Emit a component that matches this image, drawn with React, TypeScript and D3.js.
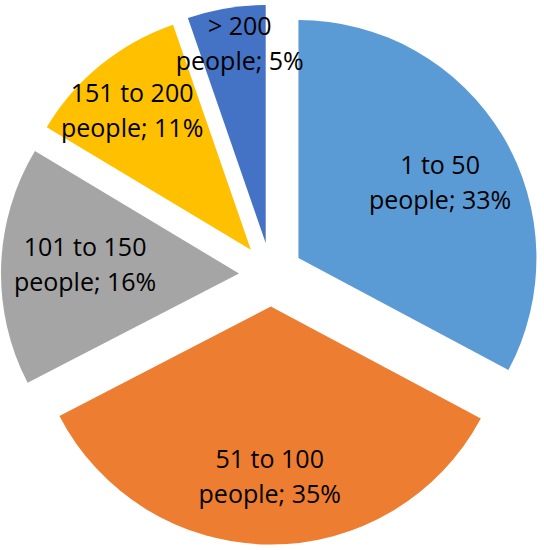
import React from "react";
import * as d3 from "d3";

// group sizes and their share of respondents (labels show rounded %)
const categories = ["1 to 50", "51 to 100", "101 to 150", "151 to 200", "> 200"];
const shares = [32.8, 34.6, 16.2, 11.1, 5.3];
const unit = "people";
const colors = ["#5B9BD5", "#ED7D31", "#A5A5A5", "#FFC000", "#4472C4"];

// where each label sits: fraction of radius and small angle nudge (deg)
const labelRadius = [0.673, 0.716, 0.648, 0.767, 0.842];
const labelNudge = [3.1, 0, 1.6, -1.5, 2.1];

const width = 544;
const height = 550;
const cx = 271;
const cy = 274.5;
const radius = 238;
const explode = 32;
const lineGap = 35;

export default function App() {
  const pie = d3
    .pie<number>()
    .sort(null)
    .value((d) => d)
    .startAngle(0)
    .endAngle(2 * Math.PI);
  const arcs = pie(shares);
  const arc = d3.arc<d3.PieArcDatum<number>>().innerRadius(0).outerRadius(radius);

  return (
    <svg
      width={width}
      height={height}
      style={{ position: "absolute", left: 0, top: 0, background: "#fff" }}
    >
      <g transform={`translate(${cx},${cy})`}>
        {arcs.map((a, i) => {
          const mid = (a.startAngle + a.endAngle) / 2;
          const ox = Math.sin(mid) * explode;
          const oy = -Math.cos(mid) * explode;
          const la = mid + (labelNudge[i] * Math.PI) / 180;
          const lr = radius * labelRadius[i];
          const lx = ox + Math.sin(la) * lr;
          const ly = oy - Math.cos(la) * lr;
          return (
            <g key={categories[i]}>
              <path d={arc(a) || ""} transform={`translate(${ox},${oy})`} fill={colors[i]} />
              <text
                x={lx}
                y={ly}
                textAnchor="middle"
                fontFamily="'Open Sans', sans-serif"
                fontSize={25}
                fill="#000"
              >
                <tspan x={lx} y={ly - lineGap / 2} dy="0.35em">
                  {categories[i]}
                </tspan>
                <tspan x={lx} y={ly + lineGap / 2} dy="0.35em">
                  {`${unit}; ${Math.round(shares[i])}%`}
                </tspan>
              </text>
            </g>
          );
        })}
      </g>
    </svg>
  );
}
